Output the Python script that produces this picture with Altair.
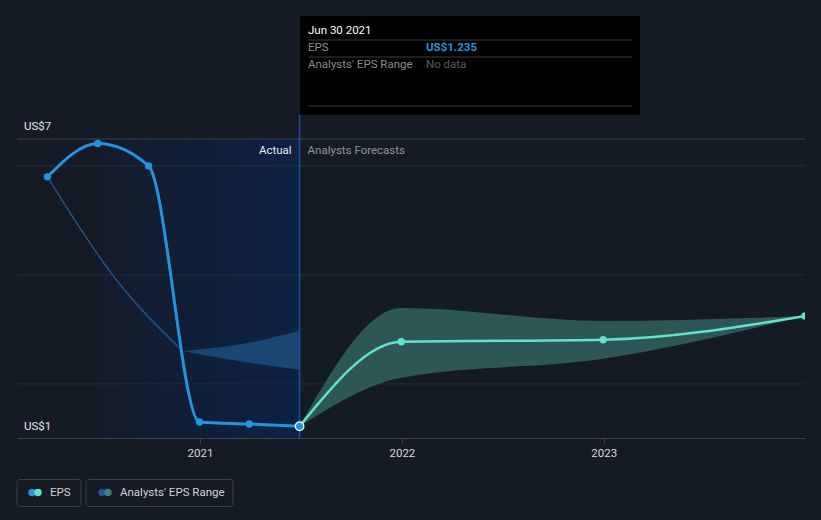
import altair as alt
import pandas as pd

# ---------------- data ----------------
eps_dates = ["2020-03-31", "2020-06-30", "2020-09-30", "2020-12-31", "2021-03-31", "2021-06-30"]
eps_values = [6.24, 6.91, 6.46, 1.32, 1.28, 1.235]

fc_dates = ["2021-06-30", "2021-12-31", "2022-12-31", "2023-12-31"]
fc_values = [1.235, 2.93, 2.97, 3.45]
fc_low = [1.235, 2.21, 2.59, 3.45]
fc_high = [1.235, 3.61, 3.35, 3.45]

past_line_dates = ["2020-03-31", "2020-07-31", "2020-12-01"]
past_line_values = [6.24, 4.21, 2.74]
past_band_dates = ["2020-12-01", "2021-03-31", "2021-06-30"]
past_band_high = [2.74, 2.91, 3.15]
past_band_low = [2.74, 2.51, 2.37]

grid_values = [6.46, 4.27, 2.085]
y_labels = ["US$7", "US$1"]
y_label_values = [7, 1]
x_tick_years = [2021, 2022, 2023]

actual_start = "2020-06-30"
actual_end = "2021-06-30"

# ---------------- styling ----------------
BG = "#151b24"
BLUE = "#2394df"
TEAL = "#5fe3cc"
FONT = "Roboto"

xscale = alt.Scale(
    type="utc",
    domain=[alt.DateTime(year=2020, month=2, date=5, utc=True),
            alt.DateTime(year=2023, month=12, date=31, utc=True)],
)
yscale = alt.Scale(domain=[1, 9.789], nice=False, zero=False)

xaxis = alt.Axis(
    values=[alt.DateTime(year=y, month=1, date=1, utc=True) for y in x_tick_years],
    format="%Y", grid=False, domainColor="#3c414b", tickColor="#3c414b",
    tickSize=5, labelColor="#d6d8db", labelFontSize=11.5, labelFont=FONT,
    labelPadding=4, title=None, domainWidth=1,
)

eps_df = pd.DataFrame({"date": eps_dates, "v": eps_values})
fc_df = pd.DataFrame({"date": fc_dates, "v": fc_values, "lo": fc_low, "hi": fc_high})
pl_df = pd.DataFrame({"date": past_line_dates, "v": past_line_values})
pb_df = pd.DataFrame({"date": past_band_dates, "hi": past_band_high, "lo": past_band_low})
grid_df = pd.DataFrame({"v": grid_values})
shade_df = pd.DataFrame({"s": [actual_start], "e": [actual_end], "top": [7.0], "bot": [1.0]})
vline_df = pd.DataFrame({"date": [actual_end], "top": [7.49], "bot": [1.0]})

X = alt.X("date:T", scale=xscale, axis=xaxis, title=None)

gradient = alt.Gradient(
    gradient="linear",
    stops=[alt.GradientStop(color="#131c2b", offset=0),
           alt.GradientStop(color="#0d2244", offset=1)],
    x1=0, x2=1, y1=0, y2=0,
)

shade = alt.Chart(shade_df).mark_rect(fill=gradient).encode(
    x=alt.X("s:T", scale=xscale, axis=xaxis, title=None),
    x2="e:T",
    y=alt.Y("top:Q", scale=yscale, axis=None),
    y2="bot:Q",
)

grid = alt.Chart(grid_df).mark_rule(color="#262c36", strokeWidth=1).encode(
    y=alt.Y("v:Q", scale=yscale, axis=None)
)
topline = alt.Chart(pd.DataFrame({"v": [7.0]})).mark_rule(color="#3c414b", strokeWidth=1).encode(
    y=alt.Y("v:Q", scale=yscale, axis=None)
)

past_line = alt.Chart(pl_df).mark_line(interpolate="monotone", color="#1f5286", strokeWidth=1.5).encode(
    x=X, y=alt.Y("v:Q", scale=yscale, axis=None)
)
past_band = alt.Chart(pb_df).mark_area(interpolate="monotone", color="#1b4a7a", opacity=0.9).encode(
    x=X, y=alt.Y("hi:Q", scale=yscale, axis=None), y2="lo:Q"
)

fc_band = alt.Chart(fc_df).mark_area(interpolate="monotone", color="#2e5654", clip=True).encode(
    x=X, y=alt.Y("hi:Q", scale=yscale, axis=None), y2="lo:Q"
)

vline = alt.Chart(vline_df).mark_rule(color="#1d4f96", strokeWidth=1.5, opacity=1).encode(
    x=X, y=alt.Y("top:Q", scale=yscale, axis=None), y2="bot:Q"
)

eps_line = alt.Chart(eps_df).mark_line(interpolate="monotone", color=BLUE, strokeWidth=3).encode(
    x=X, y=alt.Y("v:Q", scale=yscale, axis=None)
)
fc_line = alt.Chart(fc_df).mark_line(interpolate="monotone", color=TEAL, strokeWidth=2.5, clip=True).encode(
    x=X, y=alt.Y("v:Q", scale=yscale, axis=None)
)

eps_pts = alt.Chart(eps_df.iloc[:-1]).mark_circle(color=BLUE, size=55, opacity=1).encode(
    x=X, y=alt.Y("v:Q", scale=yscale, axis=None)
)
fc_pts = alt.Chart(fc_df.iloc[1:]).mark_circle(color=TEAL, size=55, opacity=1, clip=True).encode(
    x=X, y=alt.Y("v:Q", scale=yscale, axis=None)
)
hl_pt = alt.Chart(eps_df.iloc[-1:]).mark_point(
    filled=True, fill=BLUE, stroke="white", strokeWidth=1.2, size=75, opacity=1, shape="circle"
).encode(x=X, y=alt.Y("v:Q", scale=yscale, axis=None))

# annotations above the divider
ann_df = pd.DataFrame({"date": [actual_end], "v": [7.0]})
actual_txt = alt.Chart(ann_df).mark_text(
    text="Actual", align="right", baseline="middle", dx=-8, dy=12,
    color="#e6e8ea", fontSize=11.5, font=FONT
).encode(x=X, y=alt.Y("v:Q", scale=yscale, axis=None))
fc_txt = alt.Chart(ann_df).mark_text(
    text="Analysts Forecasts", align="left", baseline="middle", dx=8, dy=12,
    color="#8f949b", fontSize=11.5, font=FONT
).encode(x=X, y=alt.Y("v:Q", scale=yscale, axis=None))

ylab_df = pd.DataFrame({"v": y_label_values, "t": y_labels})
ylabs = alt.Chart(ylab_df).mark_text(
    align="left", baseline="middle", dy=-11.5, color="#e6e8ea", fontSize=11.5, font=FONT
).encode(
    x=alt.value(7), y=alt.Y("v:Q", scale=yscale, axis=None), text="t:N"
)

# tooltip box (pixel positions in plot coordinates)
tip_box = alt.Chart(pd.DataFrame({"a": [0]})).mark_rect(fill="#000000").encode(
    x=alt.value(283), x2=alt.value(623), y=alt.value(16), y2=alt.value(115)
)
sep_df = pd.DataFrame({"y": [40, 57, 106]})
tip_seps = alt.Chart(sep_df).mark_rule(color="#3a3d42", strokeWidth=1).encode(
    x=alt.value(291), x2=alt.value(615), y=alt.Y("y:Q", scale=None, axis=None)
)
tip_title = alt.Chart(pd.DataFrame({"a": [0]})).mark_text(
    text="Jun 30 2021", align="left", baseline="middle", color="#ffffff",
    fontSize=11.5, font=FONT
).encode(x=alt.value(291), y=alt.value(31))
tip_l1 = alt.Chart(pd.DataFrame({"a": [0]})).mark_text(
    text="EPS", align="left", baseline="middle", color="#8a8d92", fontSize=11.5, font=FONT
).encode(x=alt.value(291), y=alt.value(48))
tip_v1 = alt.Chart(pd.DataFrame({"a": [0]})).mark_text(
    text="US$1.235", align="left", baseline="middle", color=BLUE, fontSize=11.5, font=FONT,
    fontWeight="bold"
).encode(x=alt.value(409), y=alt.value(48))
tip_l2 = alt.Chart(pd.DataFrame({"a": [0]})).mark_text(
    text="Analysts' EPS Range", align="left", baseline="middle", color="#8a8d92", fontSize=11.5, font=FONT
).encode(x=alt.value(291), y=alt.value(65))
tip_v2 = alt.Chart(pd.DataFrame({"a": [0]})).mark_text(
    text="No data", align="left", baseline="middle", color="#5a5d62", fontSize=11.5, font=FONT
).encode(x=alt.value(409), y=alt.value(65))

# legend
leg_box_df = pd.DataFrame({"x1": [0, 69], "x2": [64, 216]})
leg_boxes = alt.Chart(leg_box_df).mark_rect(
    fill=BG, stroke="#3b414b", strokeWidth=1, cornerRadius=3
).encode(
    x=alt.X("x1:Q", scale=None, axis=None), x2="x2:Q",
    y=alt.value(479.5), y2=alt.value(506.5)
)
leg_dot_df = pd.DataFrame({
    "x": [15, 21, 85, 91],
    "c": [BLUE, TEAL, "#1d5a8c", "#3f7f7c"],
})
leg_dots = alt.Chart(leg_dot_df).mark_circle(size=55, opacity=1).encode(
    x=alt.X("x:Q", scale=None, axis=None), y=alt.value(492.5),
    color=alt.Color("c:N", scale=None, legend=None)
)
leg_txt_df = pd.DataFrame({"x": [33, 103], "t": ["EPS", "Analysts' EPS Range"]})
leg_txt = alt.Chart(leg_txt_df).mark_text(
    align="left", baseline="middle", color="#cfd2d6", fontSize=11.5, font=FONT
).encode(x=alt.X("x:Q", scale=None, axis=None), y=alt.value(492.5), text="t:N")

chart = alt.layer(
    shade, grid, topline, past_line, past_band, fc_band, vline,
    eps_line, fc_line, eps_pts, fc_pts, hl_pt,
    actual_txt, fc_txt, ylabs,
    tip_box, tip_seps, tip_title, tip_l1, tip_v1, tip_l2, tip_v2,
    leg_boxes, leg_dots, leg_txt,
).properties(
    width=788, height=438,
    padding={"left": 17, "top": 0, "right": 16, "bottom": 82},
    autosize=alt.AutoSizeParams(type="none"),
    background=BG,
).configure_view(stroke=None)

chart.save("out.html", embed_options={"renderer": "svg", "actions": False})
